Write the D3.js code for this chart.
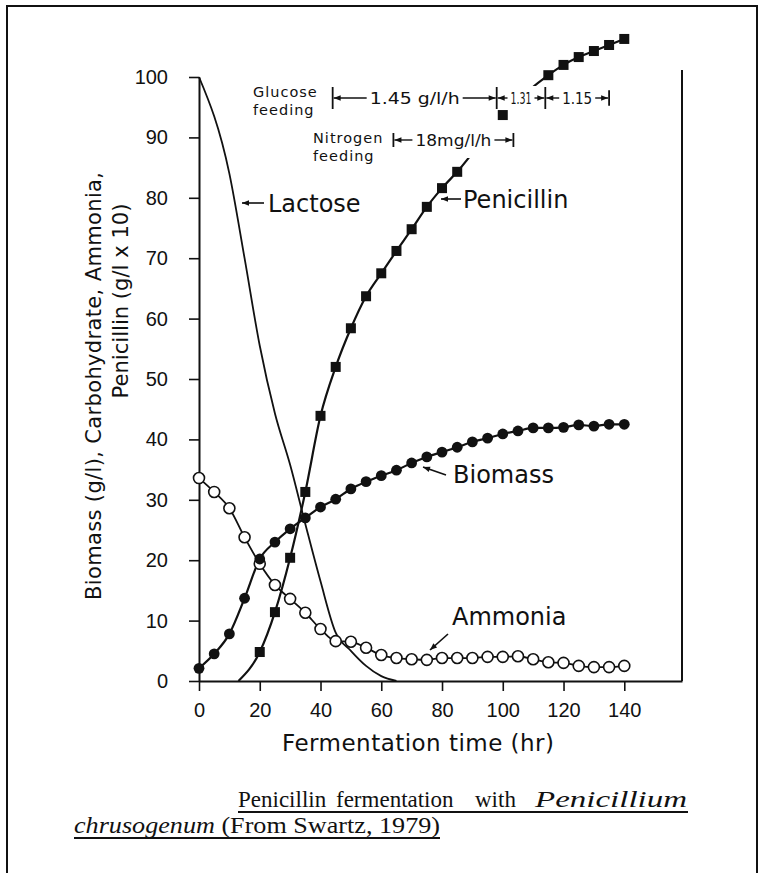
<!DOCTYPE html>
<html>
<head>
<meta charset="utf-8">
<script src="https://cdn.jsdelivr.net/npm/d3@7"></script>
<style>
  body { margin: 0; background: #fff; }
  svg text { font-family: "Liberation Sans", Arial, sans-serif; fill: #111; }
</style>
</head>
<body>
<div id="chart"></div>
<script>
// valores (Swartz, 1979)
const sampleHours = [0, 5, 10, 15, 20, 25, 30, 35, 40, 45, 50, 55, 60, 65, 70, 75, 80, 85, 90, 95, 100, 105, 110, 115, 120, 125, 130, 135, 140]
const biomass = [2.1, 4.5, 7.8, 13.7, 20.2, 23, 25.2, 27, 28.8, 30.1, 31.8, 33, 34, 34.9, 36.1, 37.1, 37.9, 38.7, 39.6, 40.2, 40.9, 41.4, 41.9, 41.9, 42, 42.4, 42.2, 42.5, 42.5]
const ammonia = [33.6, 31.3, 28.6, 23.8, 19.4, 15.9, 13.6, 11.3, 8.6, 6.6, 6.5, 5.5, 4.3, 3.8, 3.6, 3.5, 3.8, 3.8, 3.8, 4, 4, 4.1, 3.6, 3.1, 3, 2.5, 2.3, 2.3, 2.5]

const penicillinHours = [13, 20, 25, 30, 35, 40, 45, 50, 55, 60, 65, 70, 75, 80, 85, 100, 115, 120, 125, 130, 135, 140]
const penicillin = [0, 4.8, 11.4, 20.4, 31.3, 43.9, 52, 58.4, 63.7, 67.5, 71.2, 74.8, 78.5, 81.6, 84.3, 93.7, 100.3, 102, 103.3, 104.3, 105.3, 106.3]

const lactoseHours = [0, 10, 15, 20, 25, 30, 35, 40, 45, 50, 55, 60, 65]
const lactose = [100, 84, 70, 55.5, 44.3, 35.8, 26, 16.5, 8, 5, 2.5, 0.8, 0]

const xTicks = [0, 20, 40, 60, 80, 100, 120, 140]
const yTicks = [0, 10, 20, 30, 40, 50, 60, 70, 80, 90, 100]

// alimentacion: limites en horas y caudales
const glucoseFeedHours = [44, 98, 114, 135]
const glucoseFeedRates = ["1.45 g/l/h", "1.31", "1.15"]
const nitrogenFeedHours = [64, 103.5]
const nitrogenFeedRates = ["18mg/l/h"]

const width = 763
const height = 873
const wide = "'DejaVu Sans', Verdana, sans-serif"
const serif = "'Liberation Serif', 'Times New Roman', serif"

const svg = d3.select("div#chart").append("svg").attr("width", width).attr("height", height)

svg.append("defs").append("marker")
    .attr("id", "arrow")
    .attr("viewBox", "0 0 10 10")
    .attr("refX", 10).attr("refY", 5)
    .attr("markerUnits", "userSpaceOnUse")
    .attr("markerWidth", 8).attr("markerHeight", 7)
    .attr("orient", "auto")
    .append("path").attr("d", "M0,1 L10,5 L0,9 Z").attr("fill", "#111")

// marco de la pagina escaneada
svg.append("path")
    .attr("d", "M7,880 V6 H757 V880")
    .attr("fill", "none").attr("stroke", "#111").attr("stroke-width", 2)

const x = d3.scaleLinear().domain([0, 159]).range([199, 682])
const y = d3.scaleLinear().domain([0, 100]).range([681, 77])

const xAxis = d3.axisBottom(x).tickValues(xTicks).tickSize(10).tickSizeOuter(0).tickPadding(12)
const yAxis = d3.axisLeft(y).tickValues(yTicks).tickSize(10).tickSizeOuter(0).tickPadding(21)

const xAxisGroup = svg.append("g").attr("transform", `translate(0,${y(0)})`).call(xAxis)
const yAxisGroup = svg.append("g").attr("transform", `translate(${x(0)},0)`).call(yAxis)

for (const g of [xAxisGroup, yAxisGroup]) {
    g.attr("font-family", null).attr("font-size", null)
    g.select(".domain").attr("stroke", "#111").attr("stroke-width", 2)
    g.selectAll(".tick line").attr("stroke", "#111").attr("stroke-width", 1.6)
    g.selectAll(".tick text").style("font-size", "20px").attr("fill", "#111")
}

// lado derecho del recuadro
svg.append("line")
    .attr("x1", x(159)).attr("x2", x(159)).attr("y1", 70).attr("y2", y(0))
    .attr("stroke", "#111").attr("stroke-width", 2)

// titulos de ejes
svg.append("text")
    .attr("x", 418).attr("y", 751)
    .attr("text-anchor", "middle")
    .attr("textLength", 272).attr("lengthAdjust", "spacing")
    .style("font-family", wide).style("font-size", "23px")
    .text("Fermentation time (hr)")

const yTitle = svg.append("g").attr("transform", "rotate(-90)")
yTitle.append("text")
    .attr("x", -386).attr("y", 101)
    .attr("text-anchor", "middle")
    .attr("textLength", 428).attr("lengthAdjust", "spacing")
    .style("font-family", wide).style("font-size", "21px")
    .text("Biomass (g/l), Carbohydrate, Ammonia,")
yTitle.append("text")
    .attr("x", -301).attr("y", 128)
    .attr("text-anchor", "middle")
    .attr("textLength", 195).attr("lengthAdjust", "spacingAndGlyphs")
    .style("font-family", wide).style("font-size", "21px")
    .text("Penicillin (g/l x 10)")

const zip = (hs, vs) => hs.map((t, i) => ({ t: t, v: vs[i] }))
const biomassData = zip(sampleHours, biomass)
const ammoniaData = zip(sampleHours, ammonia)
const penicillinData = zip(penicillinHours, penicillin)
const lactoseData = zip(lactoseHours, lactose)

const line = d3.line().x(d => x(d.t)).y(d => y(d.v)).curve(d3.curveMonotoneX)

const elementGroup = svg.append("g").attr("class", "elementGroup")

elementGroup.append("path").datum(lactoseData).attr("d", line)
    .attr("fill", "none").attr("stroke", "#111").attr("stroke-width", 1.8)
elementGroup.append("path").datum(biomassData).attr("d", line)
    .attr("fill", "none").attr("stroke", "#111").attr("stroke-width", 2.2)
elementGroup.append("path").datum(ammoniaData).attr("d", line)
    .attr("fill", "none").attr("stroke", "#111").attr("stroke-width", 1.8)
elementGroup.append("path").datum(penicillinData).attr("d", line)
    .attr("fill", "none").attr("stroke", "#111").attr("stroke-width", 2.2)

// fondo blanco de las anotaciones de alimentacion (tapan la curva)
const annot = svg.append("g").attr("class", "annot")
annot.append("rect")
    .attr("x", x(glucoseFeedHours[0]) - 4).attr("y", 86)
    .attr("width", x(glucoseFeedHours[glucoseFeedHours.length - 1]) - x(glucoseFeedHours[0]) + 8)
    .attr("height", 25).attr("fill", "#fff")
annot.append("rect")
    .attr("x", x(nitrogenFeedHours[0]) - 4).attr("y", 110)
    .attr("width", x(nitrogenFeedHours[1]) - x(nitrogenFeedHours[0]) + 8)
    .attr("height", 48).attr("fill", "#fff")

// marcadores
elementGroup.append("g").selectAll("circle").data(ammoniaData).enter()
    .append("circle")
    .attr("cx", d => x(d.t)).attr("cy", d => y(d.v)).attr("r", 5.5)
    .attr("fill", "#fff").attr("stroke", "#111").attr("stroke-width", 1.6)

const markers = svg.append("g")
markers.selectAll("circle").data(biomassData).enter()
    .append("circle")
    .attr("cx", d => x(d.t)).attr("cy", d => y(d.v)).attr("r", 5.4)
    .attr("fill", "#111")
markers.selectAll("rect").data(penicillinData.filter(d => d.v > 0)).enter()
    .append("rect")
    .attr("x", d => x(d.t) - 5).attr("y", d => y(d.v) - 5)
    .attr("width", 10).attr("height", 10)
    .attr("fill", "#111")

function feedingBracket(hours, rates, widths, yPos, barH, fontSize) {
    hours.forEach((h, i) => {
        const hh = i === hours.length - 1 && hours.length > 2 ? barH * 0.7 : barH
        annot.append("line")
            .attr("x1", x(h)).attr("x2", x(h))
            .attr("y1", yPos - hh / 2).attr("y2", yPos + hh / 2)
            .attr("stroke", "#111").attr("stroke-width", 1.8)
    })
    rates.forEach((r, i) => {
        const x1 = x(hours[i]), x2 = x(hours[i + 1]), cx = (x1 + x2) / 2
        const w = widths[i]
        annot.append("text")
            .attr("x", cx).attr("y", yPos + fontSize * 0.36)
            .attr("text-anchor", "middle")
            .attr("textLength", w).attr("lengthAdjust", "spacingAndGlyphs")
            .style("font-family", wide)
            .style("font-size", (r.length < 5 ? fontSize - 1 : fontSize) + "px")
            .text(r)
        annot.append("line")
            .attr("x1", cx - w / 2 - 3).attr("x2", x1 + 1).attr("y1", yPos).attr("y2", yPos)
            .attr("stroke", "#111").attr("stroke-width", 1.4).attr("marker-end", "url(#arrow)")
        annot.append("line")
            .attr("x1", cx + w / 2 + 3).attr("x2", x2 - 1).attr("y1", yPos).attr("y2", yPos)
            .attr("stroke", "#111").attr("stroke-width", 1.4).attr("marker-end", "url(#arrow)")
    })
}

feedingBracket(glucoseFeedHours, glucoseFeedRates, [90, 21, 30], 98, 22, 16)
feedingBracket(nitrogenFeedHours, nitrogenFeedRates, [76], 140, 14, 16)

// etiqueta de dos lineas
function smallLabel(lines, xPos, yPos) {
    const t = annot.append("text").attr("x", xPos).attr("y", yPos)
        .style("font-family", wide).style("font-size", "14.5px").style("letter-spacing", "1px")
    lines.forEach((l, i) => {
        t.append("tspan").attr("x", xPos).attr("dy", i === 0 ? 0 : 17.5).text(l)
    })
}
smallLabel(["Glucose", "feeding"], 253, 97)
smallLabel(["Nitrogen", "feeding"], 313, 143)

// etiquetas de series con flecha
function seriesLabel(txt, tx, ty, ax1, ay1, ax2, ay2) {
    svg.append("line")
        .attr("x1", ax1).attr("y1", ay1).attr("x2", ax2).attr("y2", ay2)
        .attr("stroke", "#111").attr("stroke-width", 1.6).attr("marker-end", "url(#arrow)")
    svg.append("text").attr("x", tx).attr("y", ty)
        .style("font-family", wide).style("font-size", "24px").text(txt)
}
seriesLabel("Lactose", 268, 212, 264, 203, 242, 203)
seriesLabel("Penicillin", 463, 208, 461, 199, 441, 199)
seriesLabel("Biomass", 453, 483, 446, 475, 423, 467)
seriesLabel("Ammonia", 452, 625, 448, 634, 430, 650)

// pie de figura, texto justificado
const caption = svg.append("g")
const captionWords = ["Penicillin", "fermentation", "with", "Penicillium"]
const captionWordX = [238, 336, 475, 535]
captionWords.forEach((w, i) => {
    const t = caption.append("text").attr("x", captionWordX[i]).attr("y", 807)
        .style("font-family", serif).style("font-size", "23px").text(w)
    if (i === 3) t.style("font-style", "italic").attr("textLength", 152).attr("lengthAdjust", "spacingAndGlyphs")
})
caption.append("line").attr("x1", 238).attr("x2", 688).attr("y1", 812).attr("y2", 812)
    .attr("stroke", "#111").attr("stroke-width", 2)

const cap2 = caption.append("text").attr("x", 74).attr("y", 833)
    .attr("textLength", 366).attr("lengthAdjust", "spacingAndGlyphs")
    .style("font-family", serif).style("font-size", "23px")
cap2.append("tspan").style("font-style", "italic").text("chrusogenum")
cap2.append("tspan").text(" (From Swartz, 1979)")
caption.append("line").attr("x1", 74).attr("x2", 440).attr("y1", 838).attr("y2", 838)
    .attr("stroke", "#111").attr("stroke-width", 2)
</script>
</body>
</html>
